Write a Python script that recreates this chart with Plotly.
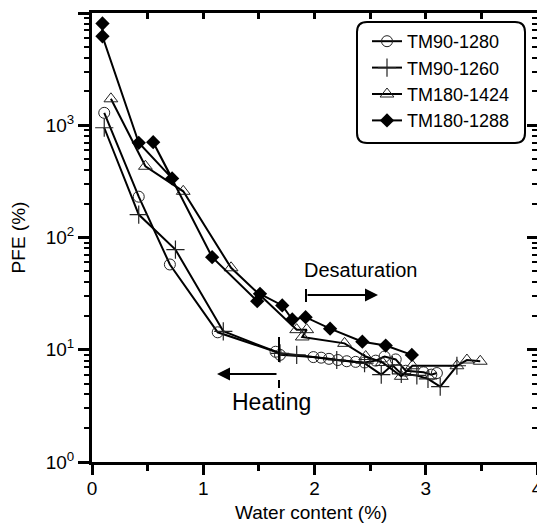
import plotly.graph_objects as go

# ---------------- data ----------------
circ_x = [0.11, 0.42, 0.70, 1.13, 1.65, 1.69, 1.99, 2.06, 2.13, 2.21, 2.29, 2.37, 2.45, 2.55, 2.63, 2.73, 2.82, 2.98, 3.05, 3.10]
circ_y = [1290, 231, 57.5, 14.3, 9.6, 9.0, 8.6, 8.5, 8.3, 8.1, 7.9, 7.8, 7.7, 8.0, 8.7, 8.2, 6.5, 6.3, 6.0, 6.2]

plus_x = [0.11, 0.42, 0.75, 1.18, 1.69, 1.84, 2.20, 2.45, 2.60, 2.70, 2.78, 2.92, 3.02, 3.13, 3.28]
plus_y = [950, 160, 78, 14.6, 9.3, 9.0, 8.1, 7.6, 6.0, 7.3, 6.1, 5.9, 5.5, 4.7, 7.2]

tri_x = [0.17, 0.48, 0.82, 1.25, 1.84, 1.93, 1.89, 2.27, 2.46, 2.61, 2.78, 2.88, 3.28, 3.37, 3.49]
tri_y = [1720, 431, 258, 53.7, 15.1, 15.1, 13.0, 11.4, 8.7, 7.7, 5.8, 7.2, 7.2, 8.1, 7.9]

dia_x = [0.094, 0.094, 0.42, 0.72, 0.55, 1.08, 1.485, 1.51, 1.71, 1.80, 1.92, 2.14, 2.43, 2.64, 2.875]
dia_y = [8060, 6210, 698, 336, 706, 66.8, 27.1, 31.5, 24.8, 18.6, 19.5, 15.4, 11.8, 10.9, 9.0]

series_names = ["TM90-1280", "TM90-1260", "TM180-1424", "TM180-1288"]
x_ticks = [0, 1, 2, 3, 4]
y_ticks = [1, 10, 100, 1000, 10000]
y_ticktext = ["10<sup>0</sup>", "10<sup>1</sup>", "10<sup>2</sup>", "10<sup>3</sup>", "10<sup>4</sup>"]
x_title = "Water content (%)"
y_title = "PFE (%)"

# ---------------- layout geometry ----------------
W, H = 537, 524
ML, MR, MT, MB = 92, 0, 13, 62
PW, PH = W - ML - MR, H - MT - MB


def xp(px):
    return (px - ML) / PW


def yp(py):
    return (H - MB - py) / PH


FONT = "Liberation Sans, Arial, sans-serif"
BLACK = "#000000"

fig = go.Figure()

styles = [
    dict(symbol="circle-open", size=11, line=dict(width=1, color="#222")),
    dict(symbol="cross-thin-open", size=13, line=dict(width=1.2, color="#222")),
    dict(symbol="triangle-up-open", size=12, line=dict(width=1, color="#222")),
    dict(symbol="diamond", size=11, color=BLACK, line=dict(width=0)),
]
data = [(circ_x, circ_y), (plus_x, plus_y), (tri_x, tri_y), (dia_x, dia_y)]

for name, (xs, ys), st in zip(series_names, data, styles):
    mk = dict(st)
    if "color" not in mk:
        mk["color"] = "#222"
    fig.add_trace(go.Scatter(
        x=xs, y=ys, name=name, mode="lines+markers",
        line=dict(color=BLACK, width=2),
        marker=mk,
    ))

# top x axis and right y axis (inside ticks, no labels)
fig.add_trace(go.Scatter(x=[None], y=[None], xaxis="x2", yaxis="y2",
                         showlegend=False, hoverinfo="skip"))

axis_common = dict(showgrid=False, zeroline=False, showline=True, automargin=False,
                   linecolor=BLACK, linewidth=3, tickcolor=BLACK,
                   tickfont=dict(family=FONT, size=19, color=BLACK))

fig.update_layout(
    width=W, height=H,
    margin=dict(l=ML, r=MR, t=MT, b=MB, pad=0, autoexpand=False),
    paper_bgcolor="white", plot_bgcolor="white",
    font=dict(family=FONT, color=BLACK),
    xaxis=dict(
        range=[0, 4], tickmode="array", tickvals=x_ticks,
        ticktext=[str(v) for v in x_ticks], ticklabeloverflow="allow",
        ticks="outside", ticklen=10, tickwidth=3, ticklabelstandoff=-3,
        minor=dict(ticks="outside", dtick=0.5, ticklen=6, tickwidth=3, tickcolor=BLACK),
        **axis_common),
    yaxis=dict(
        type="log", range=[0, 4], tickmode="array", tickvals=y_ticks, ticktext=y_ticktext,
        ticks="outside", ticklen=11, tickwidth=3,
        minor=dict(ticks="outside", dtick="D1", ticklen=5, tickwidth=2, tickcolor=BLACK),
        title=dict(text=y_title, font=dict(family=FONT, size=19, color=BLACK), standoff=16),
        **axis_common),
    xaxis2=dict(
        overlaying="x", side="top", anchor="y2", range=[0, 4], dtick=1,
        ticks="inside", ticklen=6, tickwidth=3, showticklabels=False,
        minor=dict(ticks="inside", dtick=0.5, ticklen=6, tickwidth=3, tickcolor=BLACK),
        **axis_common),
    yaxis2=dict(
        overlaying="y", side="right", anchor="x2", type="log", range=[0, 4], dtick=1,
        ticks="inside", ticklen=10, tickwidth=3, showticklabels=False,
        minor=dict(ticks="inside", dtick="D1", ticklen=5, tickwidth=2, tickcolor=BLACK),
        **axis_common),
    legend=dict(
        x=xp(367), y=yp(23), xanchor="left", yanchor="top",
        bgcolor="rgba(0,0,0,0)", borderwidth=0,
        font=dict(family=FONT, size=18, color=BLACK),
        tracegroupgap=0, itemwidth=30,
    ),
    showlegend=True,
)

# x axis title
fig.add_annotation(x=xp(311), y=yp(512), xref="paper", yref="paper",
                   text=x_title, showarrow=False, yanchor="middle",
                   font=dict(family=FONT, size=19, color=BLACK))

# rounded legend frame
x0, x1, y0, y1, r = 357, 525, 22, 143, 10
rx, ry = r / PW, r / PH
X0, X1, Y0, Y1 = xp(x0), xp(x1), yp(y0), yp(y1)
path = (f"M {X0+rx},{Y0} L {X1-rx},{Y0} Q {X1},{Y0} {X1},{Y0-ry} "
        f"L {X1},{Y1+ry} Q {X1},{Y1} {X1-rx},{Y1} "
        f"L {X0+rx},{Y1} Q {X0},{Y1} {X0},{Y1+ry} "
        f"L {X0},{Y0-ry} Q {X0},{Y0} {X0+rx},{Y0} Z")
fig.add_shape(type="path", path=path, xref="paper", yref="paper",
              line=dict(color=BLACK, width=2), fillcolor="rgba(0,0,0,0)")

# Desaturation arrow
fig.add_shape(type="line", xref="paper", yref="paper",
              x0=xp(306), x1=xp(306), y0=yp(289), y1=yp(302),
              line=dict(color=BLACK, width=2))
fig.add_annotation(x=xp(378), y=yp(295), xref="paper", yref="paper",
                   ax=-72, ay=0, text="", showarrow=True,
                   arrowhead=2, arrowsize=1.3, arrowwidth=2, arrowcolor=BLACK)
fig.add_annotation(x=xp(360), y=yp(270), xref="paper", yref="paper",
                   text="Desaturation", showarrow=False, yanchor="middle",
                   font=dict(family=FONT, size=20, color=BLACK))

# Heating arrow
fig.add_shape(type="line", xref="paper", yref="paper",
              x0=xp(279), x1=xp(279), y0=yp(337), y1=yp(362),
              line=dict(color=BLACK, width=2))
fig.add_shape(type="line", xref="paper", yref="paper",
              x0=xp(279), x1=xp(279), y0=yp(380), y1=yp(388),
              line=dict(color=BLACK, width=2))
fig.add_annotation(x=xp(217), y=yp(374), xref="paper", yref="paper",
                   ax=61, ay=0, text="", showarrow=True,
                   arrowhead=2, arrowsize=1.3, arrowwidth=2, arrowcolor=BLACK)
fig.add_annotation(x=xp(230), y=yp(387), xref="paper", yref="paper",
                   text="Heating", showarrow=False, yanchor="top",
                   font=dict(family=FONT, size=23, color=BLACK))

fig.write_html("out.html")
